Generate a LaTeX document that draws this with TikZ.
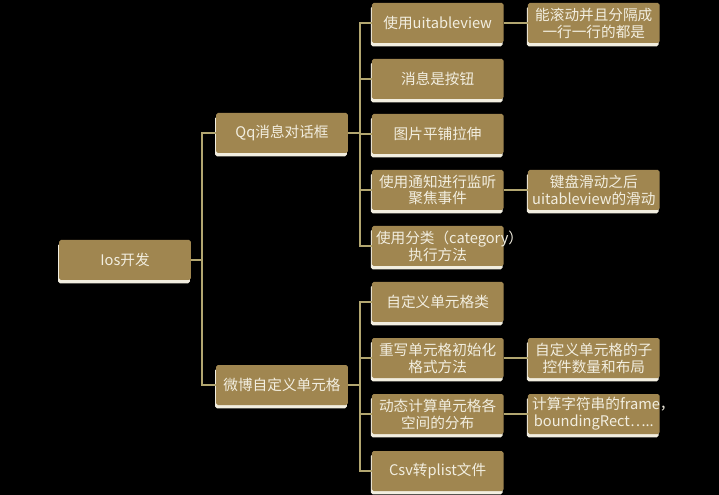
\documentclass[tikz,border=0pt]{standalone}
\usepackage{fontspec}
\setmainfont{Noto Sans CJK SC}
\usepackage{xcolor}
\usepackage{tikz}
\usetikzlibrary{shadows, positioning}
\definecolor{gold}{RGB}{160,134,80}
\definecolor{linktan}{RGB}{178,166,112}
\definecolor{cream}{RGB}{242,238,224}

\begin{document}
\begin{tikzpicture}[
    topic/.style={rectangle, rounded corners=1.5pt, fill=gold, text=cream, text width=3.7cm, inner xsep=0.125cm, inner ysep=1pt, minimum height=1.2cm, align=center, font=\fontsize{12.5}{14.5}\selectfont, drop shadow={shadow xshift=-0.03cm, shadow yshift=-0.1cm, fill=cream, opacity=1}},
    link/.style={draw=linktan, line width=1.6pt}
]

% Background
\fill[black] (0,0) rectangle (21.57,-14.85);
\useasboundingbox (0,0) rectangle (21.57,-14.85);

% Root and main branches
\node[topic] (ios) at (3.75,-7.8) {Ios开发};
\node[topic] (qq) at (8.46,-3.99) {Qq消息对话框};
\node[topic] (weibo) at (8.46,-11.55) {微博自定义单元格};

% Qq branch
\node[topic] (qq1) at (13.13,-0.69) {使用uitableview};
\node[topic] (qq2) at (13.13,-2.37) {消息是按钮};
\node[topic] (qq3) at (13.13,-4.02) {图片平铺拉伸};
\node[topic] (qq4) at (13.13,-5.70) {使用通知进行监听\\聚焦事件};
\node[topic] (qq5) at (13.13,-7.38) {使用分类（category）\\执行方法};

% Weibo branch
\node[topic] (wb1) at (13.13,-9.06) {自定义单元格类};
\node[topic] (wb2) at (13.13,-10.74) {重写单元格初始化\\格式方法};
\node[topic] (wb3) at (13.13,-12.42) {动态计算单元格各\\空间的分布};
\node[topic] (wb4) at (13.13,-14.13) {Csv转plist文件};

% Details
\node[topic, right=0.72cm of qq1] (qq1a) {能滚动并且分隔成\\一行一行的都是};
\node[topic, right=0.72cm of qq4] (qq4a) {键盘滑动之后\\uitableview的滑动};
\node[topic, right=0.72cm of wb2] (wb2a) {自定义单元格的子\\控件数量和布局};
\node[topic, right=0.72cm of wb3] (wb3a) {计算字符串的frame，\\boundingRect…..};

% Connections
\draw[link] (ios.east) -- ++(0.33,0) |- (qq.west);
\draw[link] (ios.east) -- ++(0.33,0) |- (weibo.west);
\foreach \n in {qq1,qq2,qq3,qq4,qq5}
    \draw[link] (qq.east) -- ++(0.36,0) |- (\n.west);
\foreach \n in {wb1,wb2,wb3,wb4}
    \draw[link] (weibo.east) -- ++(0.36,0) |- (\n.west);

\draw[link] (qq1) -- (qq1a);
\draw[link] (qq4) -- (qq4a);
\draw[link] (wb2) -- (wb2a);
\draw[link] (wb3) -- (wb3a);

\end{tikzpicture}
\end{document}
